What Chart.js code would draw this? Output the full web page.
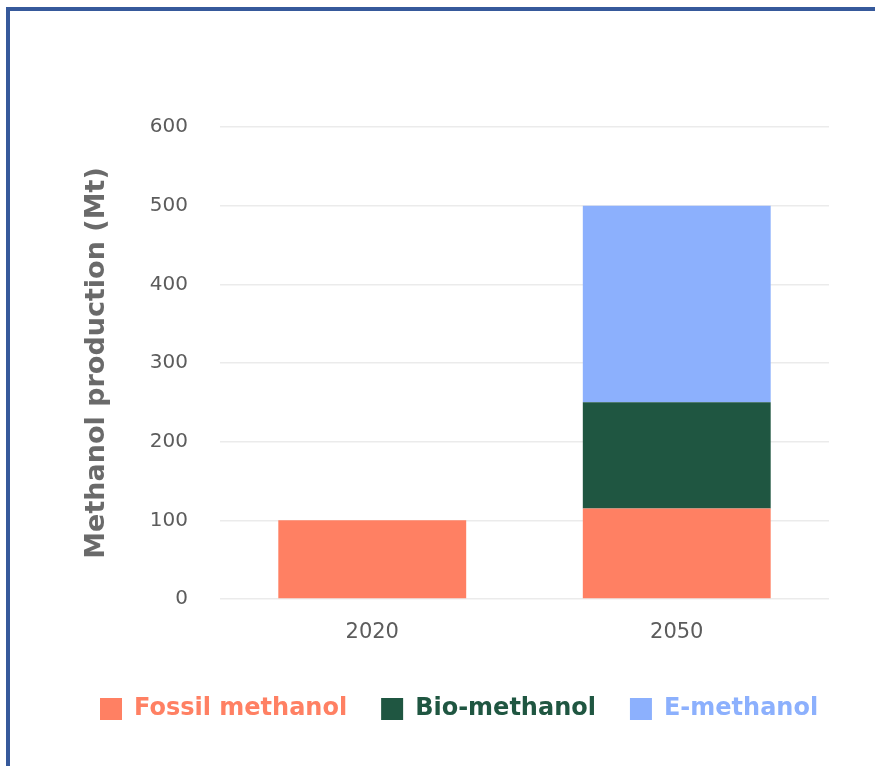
<!DOCTYPE html>
<html>
<head>
<meta charset="utf-8">
<script src="https://cdn.jsdelivr.net/npm/chart.js@4"></script>
<style>
  html, body { margin: 0; padding: 0; background: #fff; }
  .wrap { position: relative; width: 875px; height: 766px; overflow: hidden; }
  .frame {
    position: absolute; left: 6px; top: 7px; width: 900px; height: 800px;
    border-top: 4px solid #36599b; border-left: 4px solid #36599b;
  }
  canvas { position: absolute; left: 0; top: 0; }
</style>
</head>
<body>
<div class="wrap">
  <div class="frame"></div>
  <canvas id="methanol-chart" width="875" height="766"></canvas>
</div>
<script>
"use strict";
const years = ["2020", "2050"];
const fossil = [100, 115];
const bio = [0, 135];
const eMethanol = [0, 250];
const yTicks = [0, 100, 200, 300, 400, 500, 600];

const colors = {
  fossil: "#ff8063",
  bio: "#1f5641",
  e: "#8cb0fd",
};

const mkSet = (label, data, color) => ({
  label: label,
  data: data,
  backgroundColor: color,
  borderWidth: 0,
  barPercentage: 1,
  categoryPercentage: 0.617,
});

const chart = new Chart(document.querySelector("#methanol-chart"), {
  type: "bar",
  data: {
    labels: years,
    datasets: [
      mkSet("Fossil methanol", fossil, colors.fossil),
      mkSet("Bio-methanol", bio, colors.bio),
      mkSet("E-methanol", eMethanol, colors.e),
    ],
  },
  options: {
    responsive: false,
    animation: false,
    layout: { padding: { left: 66, right: 0, top: 127, bottom: 35 } },
    plugins: {
      tooltip: { enabled: false },
      legend: {
        position: "bottom",
        align: "start",
        labels: {
          boxWidth: 22,
          boxHeight: 22,
          padding: 34,
          font: { family: "DejaVu Sans", weight: "bold", size: 24 },
          generateLabels: (c) =>
            Chart.defaults.plugins.legend.labels.generateLabels(c).map((it) => {
              it.fontColor = it.fillStyle;
              it.lineWidth = 0;
              return it;
            }),
        },
      },
    },
    scales: {
      x: {
        stacked: true,
        grid: { display: false, drawTicks: false },
        border: { display: false },
        ticks: {
          color: "#5c5c5c",
          padding: 21,
          font: { family: "DejaVu Sans", size: 21 },
        },
        afterFit: (s) => { s.height = 64; },
      },
      y: {
        stacked: true,
        min: 0,
        max: 600,
        afterBuildTicks: (s) => { s.ticks = yTicks.map((v) => ({ value: v })); },
        grid: { color: "#ebebeb", lineWidth: 1.5, drawTicks: false },
        border: { display: false },
        ticks: {
          color: "#5c5c5c",
          padding: 32,
          font: { family: "DejaVu Sans", size: 20 },
        },
        title: {
          display: true,
          text: "Methanol production (Mt)",
          color: "#6a6a6a",
          padding: { top: 15, bottom: 0 },
          font: { family: "DejaVu Sans", weight: "bold", size: 27 },
        },
        afterFit: (s) => { s.width = 154; },
      },
      // empty right-hand axis, only used to leave a margin right of the plot
      yRight: {
        position: "right",
        grid: { display: false, drawTicks: false },
        border: { display: false },
        ticks: { display: false },
        afterFit: (s) => { s.width = 46; },
      },
    },
  },
});
</script>
</body>
</html>
